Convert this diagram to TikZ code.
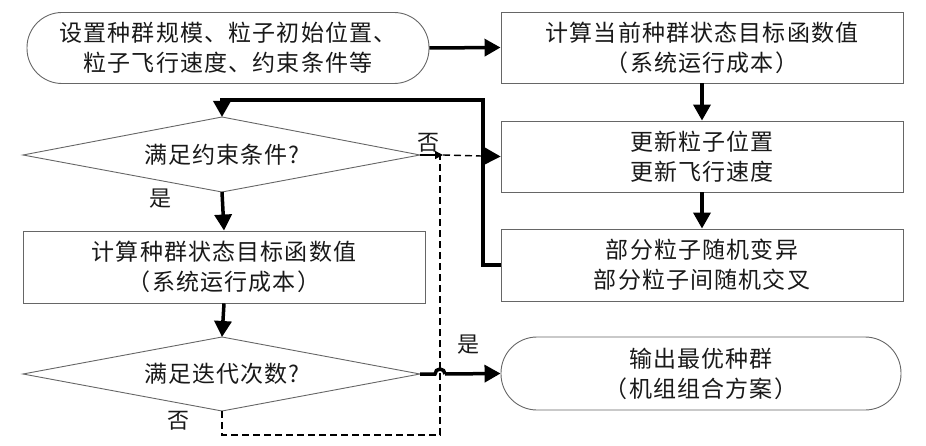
\documentclass[tikz,border=0pt]{standalone}
\usepackage{fontspec}
\setmainfont{Noto Sans CJK SC}[LetterSpace=5]
\usetikzlibrary{arrows.meta}
\begin{document}
\begin{tikzpicture}[x=1pt,y=-1pt,
  every node/.style={font=\fontsize{23}{30}\selectfont, text=black!90},
  box/.style={draw=black!60, line width=0.9pt, rectangle, align=center, inner sep=0pt, minimum width=402pt, minimum height=71pt},
  term/.style={box, rounded corners=35pt},
  decline/.style={draw=black!60, line width=0.9pt},
  flow/.style={line width=3.5pt, -{Triangle[length=16pt,width=17pt]}},
  dflow/.style={line width=1.4pt, dash pattern=on 7pt off 4pt},
  lab/.style={font=\fontsize{22}{24}\selectfont}
]
\useasboundingbox (0,0) rectangle (926,446);
\node[term] (start) at (228,48) {设置种群规模、粒子初始位置、\\粒子飞行速度、约束条件等};
\node[box] (b1) at (702,47.5) {计算当前种群状态目标函数值\\（系统运行成本）};
\node[box] (b2) at (702,156.5) {更新粒子位置\\更新飞行速度};
\node[box, minimum height=72pt] (b3) at (702,265) {部分粒子随机变异\\部分粒子间随机交叉};
\node[term, minimum width=400pt, minimum height=73pt, rounded corners=36pt] (out) at (701,373.5) {输出最优种群\\（机组组合方案）};
\node[box, minimum height=72pt] (bl) at (224,267) {计算种群状态目标函数值\\（系统运行成本）};

% decision 1
\coordinate (d1n) at (222,117);
\coordinate (d1s) at (222,192);
\coordinate (d1w) at (23,155);
\coordinate (d1e) at (420,155);
\draw[decline] (d1n) -- (d1e) -- (d1s) -- (d1w) -- cycle;
\node (d1) at (222,155) {满足约束条件?};
% decision 2
\coordinate (d2n) at (222,337);
\coordinate (d2s) at (222,411);
\coordinate (d2w) at (23,374);
\coordinate (d2e) at (420,374);
\draw[decline] (d2n) -- (d2e) -- (d2s) -- (d2w) -- cycle;
\node (d2) at (222,374) {满足迭代次数?};

\coordinate (j) at (443,155);
\coordinate (c1) at (222,435);
\coordinate (c2) at (440,435);
\coordinate (c3) at (440,155);
\coordinate (h1) at (435,374);
\coordinate (h2) at (445,374);
\coordinate (l1) at (483,265);
\coordinate (l2) at (483,100);
\coordinate (l3) at (222,100);

\draw[flow] (start.east) -- (b1.west);
\draw[flow] (b1.south) -- (b2.north);
\draw[flow] (b2.south) -- (b3.north);
\draw[flow] (b3.west) -- (l1) -- (l2) -- (l3) -- (d1n);
\draw[flow] (d1s) -- (bl.north);
\draw[flow] (bl.south) -- (d2n);

\draw[dflow] (d2s) -- (c1) -- (c2) -- (c3);
\draw[line width=1.2pt, -{Triangle[length=8pt,width=8pt]}] (d1e) -- (j);
\draw[dflow, -{Triangle[length=16pt,width=17pt]}] (j) -- (b2.west);

\draw[line width=3.5pt] (d2e) -- (h1) arc[start angle=180, end angle=0, radius=5pt];
\draw[flow] (h2) -- (out.west);

\node[lab] (n1) at (428,143) {否};
\node[lab] (y1) at (160,199) {是};
\node[lab] (y2) at (468,345) {是};
\node[lab] (n2) at (178,421) {否};
\end{tikzpicture}
\end{document}
